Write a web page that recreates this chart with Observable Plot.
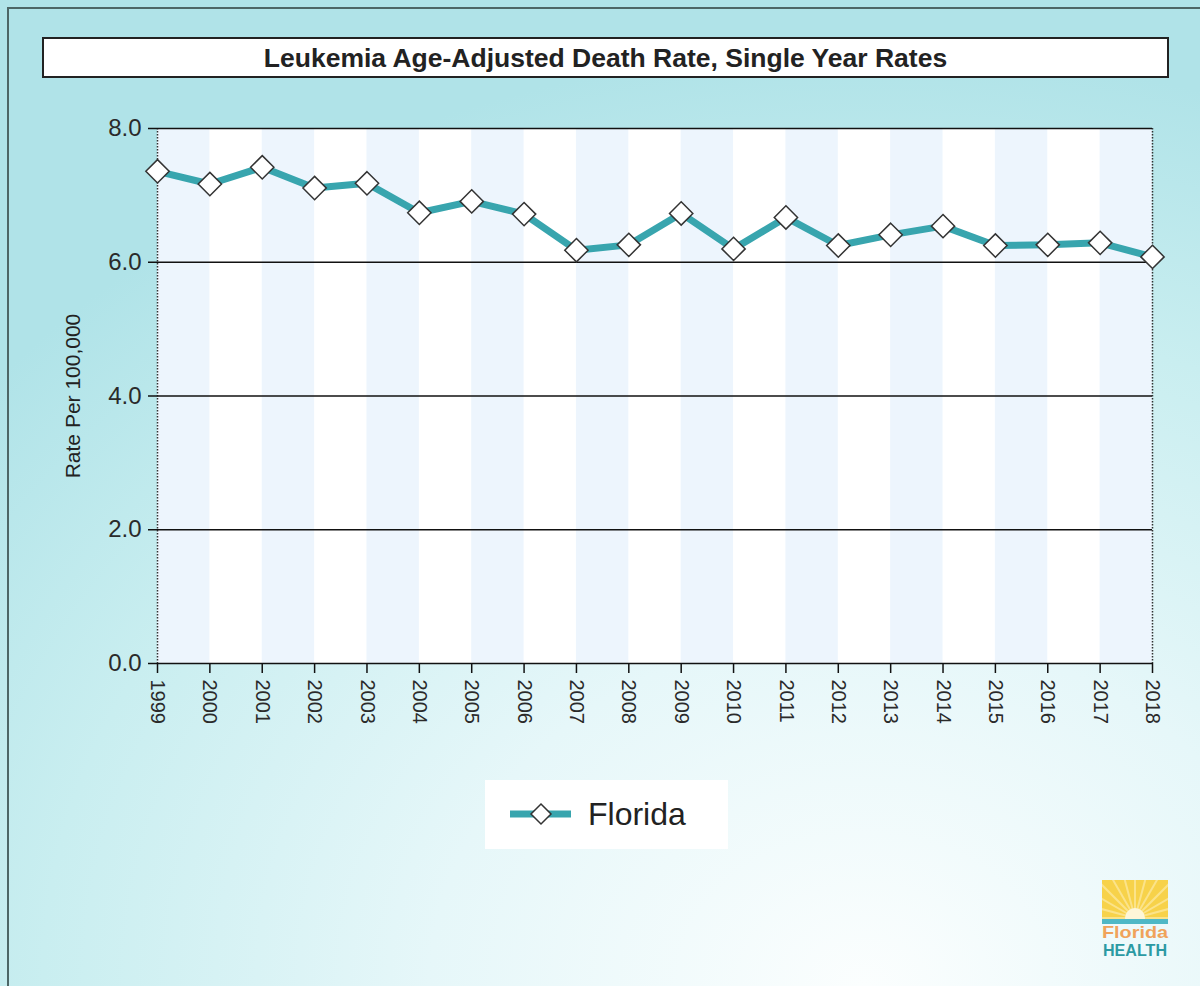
<!DOCTYPE html>
<html>
<head>
<meta charset="utf-8">
<script src="https://cdn.jsdelivr.net/npm/d3@7"></script>
<script src="https://cdn.jsdelivr.net/npm/@observablehq/plot@0.6"></script>
<style>
  html, body { margin: 0; padding: 0; }
  body { width: 1200px; height: 986px; overflow: hidden; font-family: Arial, "Liberation Sans", sans-serif; }
  #wrap {
    position: relative; width: 1200px; height: 986px;
    background: radial-gradient(ellipse 95% 95% at 72% 100%, #fbfefe 0%, #e6f7f9 38%, #c9eef0 72%, #b0e3e8 100%);
  }
  #border { position: absolute; left: 7px; top: 7px; right: -4px; bottom: -4px; border-left: 2px solid #4d6666; border-top: 2px solid #4d6666; }
  #chart { position: absolute; left: 0; top: 0; }
  #title {
    position: absolute; left: 42px; top: 37px; width: 1123px; height: 37px;
    background: #fff; border: 2px solid #222;
    font: bold 26.5px Arial, "Liberation Sans", sans-serif; color: #222;
    text-align: center; line-height: 39px;
  }
  #legend { position: absolute; left: 485px; top: 780px; }
  #logo { position: absolute; left: 1098px; top: 878px; }
</style>
</head>
<body>
<div id="wrap">
  <div id="border"></div>
  <div id="chart"></div>
  <div id="title">Leukemia Age-Adjusted Death Rate, Single Year Rates</div>
  <div id="legend"></div>
  <div id="logo"></div>
</div>
<script>
// ---- data ----
const years = [1999, 2000, 2001, 2002, 2003, 2004, 2005, 2006, 2007, 2008,
               2009, 2010, 2011, 2012, 2013, 2014, 2015, 2016, 2017, 2018];
const rates = [7.36, 7.17, 7.42, 7.11, 7.18, 6.74, 6.91, 6.72, 6.18, 6.26,
               6.73, 6.20, 6.67, 6.25, 6.41, 6.54, 6.25, 6.26, 6.29, 6.08];
const yTicks = [0, 2, 4, 6, 8];
const gridLines = [2, 4, 6, 8];
const seriesName = "Florida";
const yLabel = "Rate Per 100,000";

const data = years.map((year, i) => ({ year, rate: rates[i] }));
const bandStarts = years.filter((y, i) => i % 2 === 0 && i < years.length - 1);

const teal = "#38a5ae";

const chart = Plot.plot({
  width: 1200,
  height: 986,
  marginLeft: 157,
  marginRight: 48,
  marginTop: 128,
  marginBottom: 323,
  style: { background: "transparent", fontFamily: "Arial, 'Liberation Sans', sans-serif", color: "#222" },
  x: { domain: [years[0], years[years.length - 1]], axis: null },
  y: { domain: [0, 8], axis: null },
  marks: [
    Plot.rect([0], { x1: years[0], x2: years[years.length - 1], y1: 0, y2: 8, fill: "white" }),
    Plot.rect(bandStarts, { x1: d => d, x2: d => d + 1, y1: 0, y2: 8, fill: "#edf5fd" }),
    Plot.ruleX([years[0], years[years.length - 1]], { stroke: "#333", strokeWidth: 1.5, strokeDasharray: "1.5,1.5" }),
    Plot.ruleY(gridLines, { stroke: "#111", strokeWidth: 1.6 }),
    Plot.ruleY([0], { stroke: "#111", strokeWidth: 1.6 }),
    Plot.axisY({ ticks: yTicks, tickFormat: d3.format(".1f"), tickSize: 9, tickPadding: 7, fontSize: 24, label: null, stroke: "#111", strokeWidth: 1.5, fill: "#2a2a2a" }),
    Plot.text([yLabel], { frameAnchor: "left", textAnchor: "middle", dx: -84, rotate: -90, fontSize: 21, fill: "#222" }),
    Plot.axisX({ ticks: years, tickFormat: d3.format("d"), tickSize: 10, tickPadding: 6, tickRotate: 90, fontSize: 20, label: null, stroke: "#111", strokeWidth: 1.5, fill: "#2a2a2a" }),
    Plot.line(data, { x: "year", y: "rate", stroke: teal, strokeWidth: 7 }),
    Plot.dot(data, { x: "year", y: "rate", symbol: "diamond2", r: 10.5, fill: "white", stroke: "#333", strokeWidth: 1.5 })
  ]
});
document.getElementById("chart").appendChild(chart);

// legend
document.getElementById("legend").innerHTML = `
<svg width="243" height="69" xmlns="http://www.w3.org/2000/svg">
  <rect x="0" y="0" width="243" height="69" fill="#ffffff"/>
  <line x1="25" y1="34" x2="86" y2="34" stroke="${teal}" stroke-width="7"/>
  <path d="M56 24 L66 34 L56 44 L46 34 Z" fill="#fff" stroke="#333" stroke-width="1.5"/>
  <text x="103" y="45" font-family="Arial, 'Liberation Sans', sans-serif" font-size="32" fill="#222">${seriesName}</text>
</svg>`;

// logo
document.getElementById("logo").innerHTML = `
<svg width="76" height="92" xmlns="http://www.w3.org/2000/svg">
  <defs><clipPath id="sq"><rect x="4" y="2" width="66" height="44"/></clipPath></defs>
  <rect x="4" y="2" width="66" height="44" fill="#f7d24a"/>
  <g clip-path="url(#sq)" stroke="#fbe38a" stroke-width="2">
    ${d3.range(0, 13).map(i => { const a = Math.PI * (i / 12); return `<line x1="37" y1="40" x2="${37 - 60 * Math.cos(a)}" y2="${40 - 60 * Math.sin(a)}"/>`; }).join("")}
    <circle cx="37" cy="40" r="10" fill="#fdf6d8" stroke="none"/>
  </g>
  <rect x="4" y="41" width="66" height="5" fill="#4fb8c6"/>
  <text x="4" y="60" textLength="66" lengthAdjust="spacingAndGlyphs" font-family="Arial, 'Liberation Sans', sans-serif" font-weight="bold" font-size="17" fill="#f0a35a">Florida</text>
  <text x="5" y="78" textLength="64" lengthAdjust="spacingAndGlyphs" font-family="Arial, 'Liberation Sans', sans-serif" font-weight="bold" font-size="16" fill="#2c9aa3">HEALTH</text>
</svg>`;
</script>
</body>
</html>
